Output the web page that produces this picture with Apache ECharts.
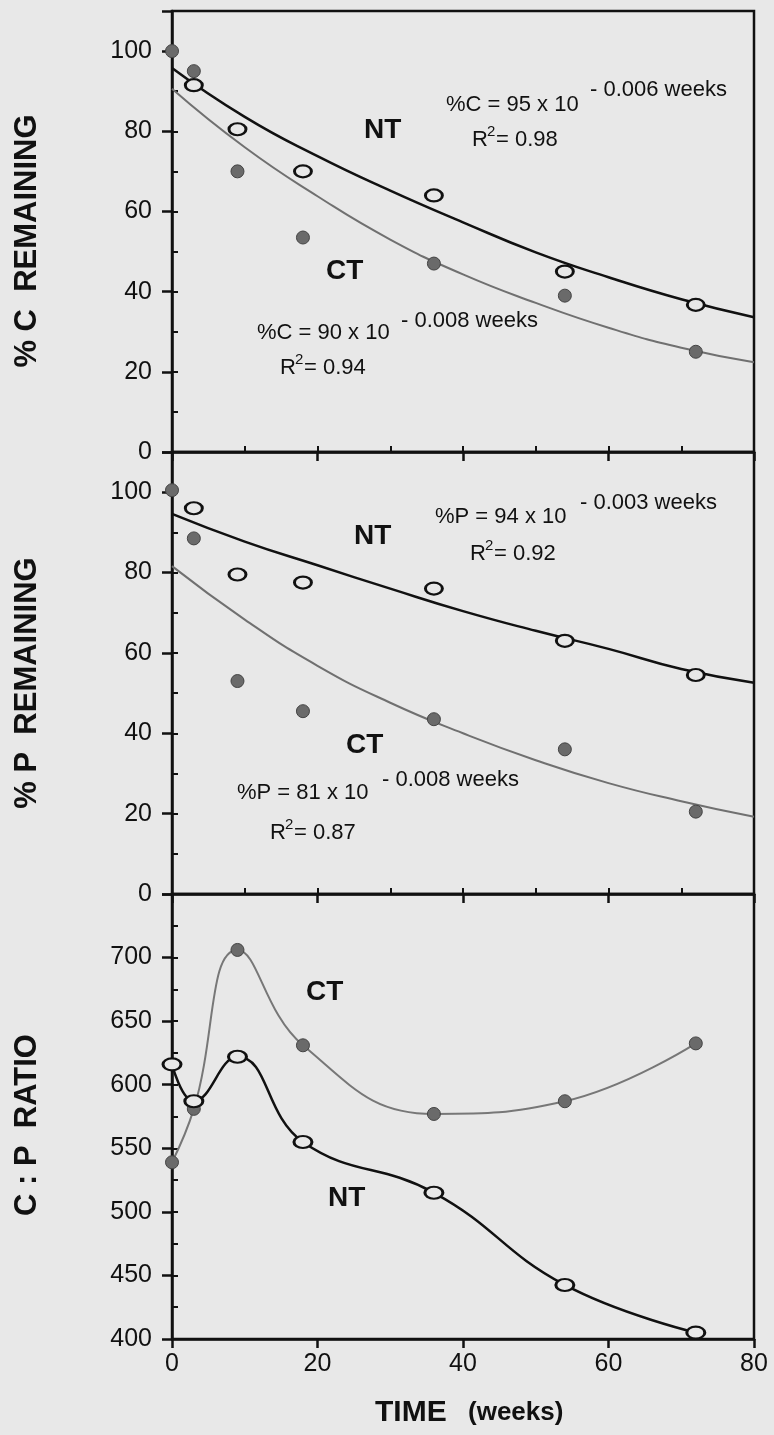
<!DOCTYPE html>
<html>
<head>
<meta charset="utf-8">
<script src="https://cdn.jsdelivr.net/npm/echarts@6/dist/echarts.min.js"></script>
<style>
  html, body { margin: 0; padding: 0; background: #e8e8e8; }
  #chart { width: 774px; height: 1435px; }
</style>
</head>
<body>
<div id="chart"></div>
<script>
// sampling dates (weeks) and measured points
const sample_weeks = [0, 3, 9, 18, 36, 54, 72];
const c_ct = [100, 95, 70, 53.5, 47, 39, 25];
const c_nt = [null, 91.5, 80.5, 70, 64, 45, 36.7]; // week 0 sits under the CT dot
const p_ct = [100.5, 88.5, 53, 45.5, 43.5, 36, 20.5];
const p_nt = [null, 96, 79.5, 77.5, 76, 63, 54.5];
const ratio_ct = [539, 581, 706, 631, 577, 587, 632.5];
const ratio_nt = [616, 587, 622, 555, 515, 442.5, 405];

// fitted curves, every 10 weeks
const fit_weeks = [0, 10, 20, 30, 40, 50, 60, 70, 80];
const c_nt_fit = [95.8, 83.6, 73.8, 65.2, 57.3, 49.8, 43.6, 38.1, 33.6];
const c_ct_fit = [90.6, 76, 63.8, 53, 44.3, 37.2, 31, 26, 22.4];
const p_nt_fit = [94.6, 87.7, 81.8, 76, 70.4, 65.5, 61, 56, 52.6];
const p_ct_fit = [81.6, 68.3, 56.8, 47.6, 40, 33.3, 27.6, 23.1, 19.2];

const x_ticks = [0, 20, 40, 60, 80];
const pct_ticks = [0, 20, 40, 60, 80, 100];
const ratio_ticks = [400, 450, 500, 550, 600, 650, 700];

const ink = "#111";
const font_family = "'Liberation Sans', Arial, Helvetica, sans-serif";


function pairs(xs, ys){
    return xs.map((x, i) => [x, ys[i]]).filter(_ => _[1] !== null);
}

function panelAxes(gi, y_min, y_max, y_step, y_labels, show_x_labels){
    const x_main = {
        type: 'value', gridIndex: gi, min: 0, max: 80, interval: 20,
        axisLine: {onZero: false, lineStyle: {color: ink, width: 2.5}},
        axisTick: {length: 9, lineStyle: {color: ink, width: 2.5}},
        axisLabel: {show: show_x_labels, color: ink, fontSize: 25, fontFamily: font_family, margin: 13,
                    formatter: (v) => x_ticks.includes(v) ? String(v) : ''},
        splitLine: {show: false}
    };
    const x_minor = {
        type: 'value', gridIndex: gi, min: 0, max: 80, interval: 10,
        axisLine: {show: false}, axisLabel: {show: false}, splitLine: {show: false},
        axisTick: {length: 6, lineStyle: {color: ink, width: 2}}
    };
    const y_main = {
        type: 'value', gridIndex: gi, min: y_min, max: y_max, interval: y_step,
        axisLine: {onZero: false, lineStyle: {color: ink, width: 2.5}},
        axisTick: {length: 10, lineStyle: {color: ink, width: 2.5}},
        axisLabel: {color: ink, fontSize: 25, fontFamily: font_family, margin: 20,
                    formatter: (v) => y_labels.includes(v) ? String(v) : ''},
        splitLine: {show: false}
    };
    const y_minor = {
        type: 'value', gridIndex: gi, min: y_min, max: y_max, interval: y_step / 2,
        axisLine: {show: false}, axisLabel: {show: false}, splitLine: {show: false},
        axisTick: {length: 6, lineStyle: {color: ink, width: 2}}
    };
    return {x: [x_main, x_minor], y: [y_main, y_minor]};
}

function txt(x, y, text, size, bold){
    return {
        type: 'text', x, y, z: 100,
        style: {text, fontSize: size, fontWeight: bold ? 'bold' : 'normal', fontFamily: font_family,
                fill: ink, align: 'left', verticalAlign: 'middle'}
    };
}

function rSquared(x, y, value){
    return [txt(x, y, 'R', 22), txt(x + 15, y - 8, '2', 15), txt(x + 24, y, '= ' + value, 22)];
}

function yTitle(y, text){
    return {
        type: 'text', x: 27, y, rotation: Math.PI / 2, z: 100,
        style: {text, fontSize: 31, fontWeight: 'bold', fontFamily: font_family, fill: ink,
                align: 'center', verticalAlign: 'middle'}
    };
}


const ct_dot = {symbol: 'circle', symbolSize: 13, itemStyle: {color: '#6a6a6a', borderColor: '#444', borderWidth: 1, opacity: 1}};
const nt_ring = {symbol: 'circle', symbolSize: [17, 12], itemStyle: {color: '#e8e8e8', borderColor: ink, borderWidth: 2.5, opacity: 1}};

function buildOption(){
    const panels = [
        panelAxes(0, 0, 110, 20, pct_ticks, false),
        panelAxes(1, 0, 110, 20, pct_ticks, false),
        panelAxes(2, 400, 750, 50, ratio_ticks, true)
    ];
    const xAxis = [], yAxis = [];
    panels.forEach(p => { xAxis.push(...p.x); yAxis.push(...p.y); });

    const grid_base = {left: 172, right: 20, show: true, borderColor: ink, borderWidth: 2.5, backgroundColor: 'transparent'};
    const grid = [
        Object.assign({top: 11, height: 441}, grid_base),
        Object.assign({top: 452, height: 442}, grid_base),
        Object.assign({top: 894, height: 445}, grid_base)
    ];

    const fit = (gi, ys, color, width) => ({
        type: 'line', xAxisIndex: gi * 2, yAxisIndex: gi * 2, data: pairs(fit_weeks, ys),
        smooth: true, showSymbol: false, symbol: 'none', z: 2, silent: true,
        lineStyle: {color, width}
    });
    const dots = (gi, ys, marker) => Object.assign({
        type: 'scatter', xAxisIndex: gi * 2, yAxisIndex: gi * 2, data: pairs(sample_weeks, ys), z: 5
    }, marker);

    const series = [
        fit(0, c_ct_fit, '#707070', 2), fit(0, c_nt_fit, ink, 2.5),
        dots(0, c_ct, ct_dot), dots(0, c_nt, nt_ring),
        fit(1, p_ct_fit, '#707070', 2), fit(1, p_nt_fit, ink, 2.5),
        dots(1, p_ct, ct_dot), dots(1, p_nt, nt_ring),
        {
            type: 'line', xAxisIndex: 4, yAxisIndex: 4, data: pairs(sample_weeks, ratio_ct), smooth: 0.45, z: 3,
            symbol: 'circle', symbolSize: 13, showSymbol: true,
            lineStyle: {color: '#777', width: 2},
            itemStyle: {color: '#6a6a6a', borderColor: '#444', borderWidth: 1}
        },
        {
            type: 'line', xAxisIndex: 4, yAxisIndex: 4, data: pairs(sample_weeks, ratio_nt), smooth: 0.45, z: 4,
            symbol: 'circle', symbolSize: [18, 12], showSymbol: true,
            lineStyle: {color: ink, width: 2.5},
            itemStyle: {color: '#e8e8e8', borderColor: ink, borderWidth: 2.5}
        }
    ];

    const graphic = [
        yTitle(241, '% C  REMAINING'),
        yTitle(683, '% P  REMAINING'),
        yTitle(1125, 'C : P  RATIO'),

        // top panel
        txt(364, 130, 'NT', 28, true),
        txt(446, 105, '%C = 95 x 10', 22),
        txt(590, 90, '- 0.006 weeks', 22),
        ...rSquared(472, 140, '0.98'),
        txt(326, 271, 'CT', 28, true),
        txt(257, 333, '%C = 90 x 10', 22),
        txt(401, 321, '- 0.008 weeks', 22),
        ...rSquared(280, 368, '0.94'),

        // middle panel
        txt(354, 536, 'NT', 28, true),
        txt(435, 517, '%P = 94 x 10', 22),
        txt(580, 503, '- 0.003 weeks', 22),
        ...rSquared(470, 554, '0.92'),
        txt(346, 745, 'CT', 28, true),
        txt(237, 793, '%P = 81 x 10', 22),
        txt(382, 780, '- 0.008 weeks', 22),
        ...rSquared(270, 833, '0.87'),

        // bottom panel
        txt(306, 992, 'CT', 28, true),
        txt(328, 1198, 'NT', 28, true),

        txt(375, 1413, 'TIME', 30, true),
        txt(468, 1413, '(weeks)', 26, true)
    ];

    return {
        backgroundColor: '#e8e8e8',
        animation: false,
        grid, xAxis, yAxis, series, graphic
    };
}


function createEChart(element, on){
    const chart = echarts.init(element, null, { renderer: on || 'canvas' });
    new ResizeObserver(() => chart.resize()).observe(element);
    return chart;
}

const decay_plot = createEChart(document.getElementById('chart'));
decay_plot.setOption(buildOption());
</script>
</body>
</html>
